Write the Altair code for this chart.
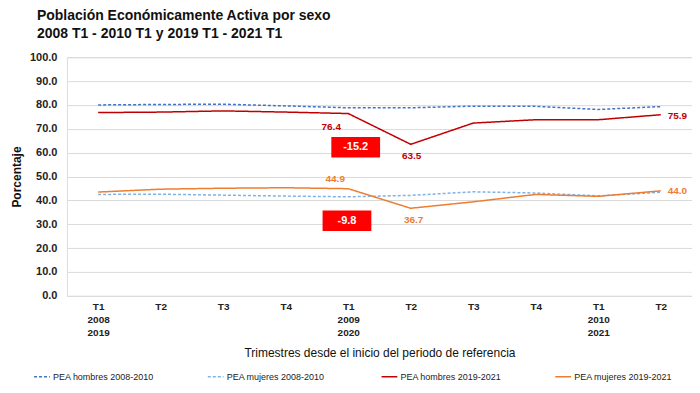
import json
import altair as alt
import pandas as pd

# ---- data ----
quarters = ["T1", "T2", "T3", "T4", "T1", "T2", "T3", "T4", "T1", "T2"]
years_a = ["2008", "", "", "", "2009", "", "", "", "2010", ""]
years_b = ["2019", "", "", "", "2020", "", "", "", "2021", ""]

series_names = [
    "PEA hombres 2008-2010",
    "PEA mujeres 2008-2010",
    "PEA hombres 2019-2021",
    "PEA mujeres 2019-2021",
]
hombres_2008 = [80.0, 80.2, 80.3, 79.6, 78.8, 78.8, 79.5, 79.4, 78.1, 79.3]
mujeres_2008 = [42.5, 42.6, 42.2, 41.8, 41.5, 42.1, 43.6, 43.1, 41.9, 43.4]
hombres_2019 = [76.8, 77.0, 77.5, 77.0, 76.4, 63.5, 72.4, 73.8, 73.8, 75.9]
mujeres_2019 = [43.5, 44.7, 45.1, 45.3, 44.9, 36.7, 39.4, 42.5, 41.7, 44.0]

series_colors = ["#4472C4", "#7FB2E5", "#C00000", "#ED7D31"]
series_dash = [[3, 2], [3, 2], [1, 0], [1, 0]]
series_width = [1.5, 1.5, 2.2, 2.2]

# change boxes (text, x-center index, y-center value)
box_texts = ["-15.2", "-9.8"]
box_x = [4.12, 3.98]
box_y = [62.3, 31.5]

# ---- build tables ----
all_series = [hombres_2008, mujeres_2008, hombres_2019, mujeres_2019]
rows = []
for name, vals in zip(series_names, all_series):
    for i, v in enumerate(vals):
        rows.append({"i": i, "v": v, "serie": name})
df = pd.DataFrame(rows)

label_lines = []
for q, a, b in zip(quarters, years_a, years_b):
    label_lines.append([s for s in (q, a, b) if s])
label_expr = json.dumps(label_lines) + "[datum.value]"

FONT = "Liberation Sans"

xscale = alt.Scale(domain=[-0.5, 9.5], nice=False, zero=False)
yscale = alt.Scale(domain=[0, 100], nice=False)

xaxis = alt.Axis(
    values=list(range(10)),
    labelExpr=label_expr,
    grid=False,
    domain=False,
    ticks=False,
    labelFont=FONT,
    labelFontWeight="bold",
    labelFontSize=10,
    labelLineHeight=13,
    labelPadding=6,
    labelColor="#222222",
    labelOverlap=False,
    title="Trimestres desde el inicio del periodo de referencia",
    titleFont=FONT,
    titleFontSize=12,
    titleFontWeight="normal",
    titleColor="#111111",
    titlePadding=10,
)
yaxis = alt.Axis(
    values=list(range(0, 101, 10)),
    format=".1f",
    domain=False,
    ticks=False,
    gridColor="#DADADA",
    labelFont=FONT,
    labelFontWeight="bold",
    labelFontSize=11,
    labelPadding=10,
    labelColor="#222222",
    labelOverlap=False,
    title="Porcentaje",
    titleFont=FONT,
    titleFontSize=12,
    titleFontWeight="bold",
    titleColor="#111111",
    titlePadding=6,
)

base = alt.Chart(df)

lines = base.mark_line().encode(
    x=alt.X("i:Q", scale=xscale, axis=xaxis),
    y=alt.Y("v:Q", scale=yscale, axis=yaxis),
    color=alt.Color(
        "serie:N",
        scale=alt.Scale(domain=series_names, range=series_colors),
        sort=series_names,
        legend=alt.Legend(
            title=None,
            orient="none",
            legendX=-34,
            legendY=311,
            direction="horizontal",
            columns=4,
            gridAlign="all",
            symbolType="stroke",
            symbolSize=250,
            symbolStrokeWidth=1.6,
            labelFont=FONT,
            labelFontSize=9,
            labelColor="#222222",
            columnPadding=50,
            labelOffset=2,
        ),
    ),
    strokeDash=alt.StrokeDash(
        "serie:N",
        scale=alt.Scale(domain=series_names, range=series_dash),
        sort=series_names,
        legend=None,
    ),
    strokeWidth=alt.StrokeWidth(
        "serie:N",
        scale=alt.Scale(domain=series_names, range=series_width),
        legend=None,
    ),
)

def point_label(series_idx, idx, color, dx, dy, align="center"):
    d = pd.DataFrame({"i": [idx], "v": [all_series[series_idx][idx]]})
    return alt.Chart(d).mark_text(
        font=FONT, fontSize=10, fontWeight="bold", color=color,
        dx=dx, dy=dy, align=align,
    ).encode(x=alt.X("i:Q", scale=xscale, axis=xaxis),
             y=alt.Y("v:Q", scale=yscale, axis=yaxis),
             text=alt.Text("v:Q", format=".1f"))

labels = [
    point_label(2, 4, "#C00000", -17, 13),
    point_label(2, 5, "#C00000", 1, 12),
    point_label(2, 9, "#C00000", 7, 1, "left"),
    point_label(3, 4, "#ED7D31", -13, -10),
    point_label(3, 5, "#ED7D31", 3, 12),
    point_label(3, 9, "#ED7D31", 7, 0, "left"),
]

bdf = pd.DataFrame({"t": box_texts, "x": box_x, "y": box_y})
boxes = alt.Chart(bdf).mark_rect(color="#FF0000").encode(
    x=alt.X("x1:Q", scale=xscale, axis=xaxis),
    x2="x2:Q",
    y=alt.Y("y1:Q", scale=yscale, axis=yaxis),
    y2="y2:Q",
).transform_calculate(
    x1="datum.x - 0.39", x2="datum.x + 0.39",
    y1="datum.y - 4.3", y2="datum.y + 4.3",
)
box_text = alt.Chart(bdf).mark_text(
    font=FONT, fontSize=11, fontWeight="bold", color="white"
).encode(x=alt.X("x:Q", scale=xscale, axis=xaxis),
         y=alt.Y("y:Q", scale=yscale, axis=yaxis), text="t:N")

chart = alt.layer(lines, *labels, boxes, box_text).properties(
    width=626,
    height=239,
    autosize=alt.AutoSizeParams(type="none"),
    padding={"left": 59, "top": 49, "right": 0, "bottom": 90},
    title=alt.Title(
        text=["Población  Económicamente Activa por sexo",
              "2008 T1 - 2010 T1 y 2019 T1 - 2021 T1"],
        anchor="start",
        frame="group",
        font=FONT,
        fontSize=14,
        fontWeight="bold",
        color="#111111",
        lineHeight=18,
        dx=-30,
        offset=10,
    ),
).configure_view(stroke=None).configure(background="white")

chart.save("out.html", embed_options={"renderer": "svg", "actions": False})
